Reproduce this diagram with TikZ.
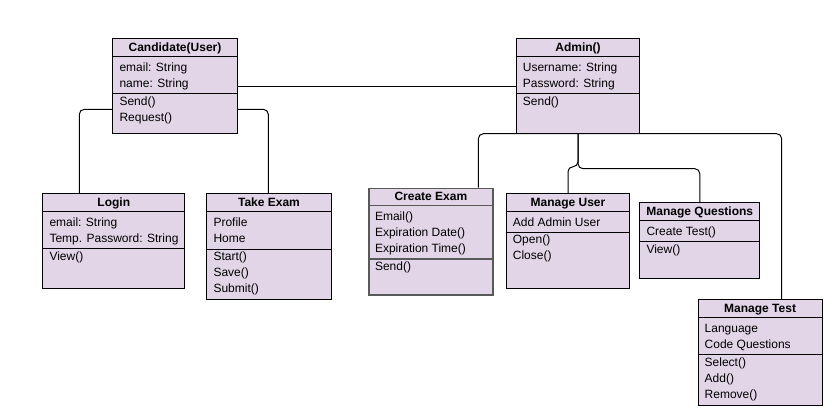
\documentclass[tikz,border=0pt]{standalone}
\usepackage{fontspec}
\setmainfont{Liberation Sans}
\usetikzlibrary{positioning}
\definecolor{umlfill}{HTML}{E1D5E7}
\tikzstyle{classbox} = [rectangle, draw=black, fill=umlfill, line width=1pt, anchor=north west, inner sep=0pt]
\tikzstyle{classname} = [anchor=base, inner sep=0pt, font=\fontsize{12}{16}\selectfont\bfseries]
\tikzstyle{classtext} = [anchor=north west, inner sep=0pt, align=left, font=\fontsize{12}{16}\selectfont]
\tikzstyle{classline} = [line width=1pt]
\tikzstyle{link} = [line width=1pt, rounded corners=5pt]
\tikzstyle{grayedge} = [draw=black!65, line width=1.7pt]
% name, top left, width, height, title, attributes, divider, operations, extra style
\newcommand{\umlclass}[9]{%
  \node (#1) [classbox, minimum width=#3, minimum height=#4, #9] at (#2) {};
  \node (#1-name) [classname] at ([yshift=-13pt]#1.north) {#5};
  \draw [classline, #9] ([yshift=-18pt]#1.north west) -- ([yshift=-18pt]#1.north east);
  \node (#1-attr) [classtext] at ([xshift=7pt,yshift=-21.5pt]#1.north west) {\strut #6};
  \draw [classline, #9] ([yshift=-#7]#1.north west) -- ([yshift=-#7]#1.north east);
  \node (#1-ops) [classtext] at ([xshift=7pt,yshift=-#7-0.5pt]#1.north west) {\strut #8};
}
\begin{document}
\begin{tikzpicture}[x=1pt, y=-1pt]
    \useasboundingbox (0,0) rectangle (832,418);

    \umlclass{cand}{112.3,38.3}{124.4pt}{95pt}{Candidate(User)}{email: String\\name: String}{55pt}{Send()\\Request()}{}
    \umlclass{login}{42.3,193.3}{142pt}{95pt}{Login}{email: String\\Temp. Password: String}{55pt}{View()}{}
    \umlclass{exam}{206.3,193.3}{124.4pt}{106pt}{Take Exam}{Profile\\Home}{55.7pt}{Start()\\Save()\\Submit()}{}
    \umlclass{admin}{515.7,38.3}{123.6pt}{94.4pt}{Admin()}{Username: String\\Password: String}{55pt}{Send()}{}
    \umlclass{create}{367.8,187.5}{124.5pt}{106.8pt}{Create Exam}{Email()\\Expiration Date()\\Expiration Time()}{71.5pt}{Send()}{grayedge}
    \umlclass{manuser}{505.7,193.3}{123.6pt}{95pt}{Manage User}{Add Admin User}{38.7pt}{Open()\\Close()}{}
    \umlclass{manq}{639.3,202.3}{120pt}{76pt}{Manage Questions}{Create Test()}{39pt}{View()}{}
    \umlclass{mantest}{697.5,299.3}{124.2pt}{105.7pt}{Manage Test}{Language\\Code Questions}{55pt}{Select()\\Add()\\Remove()}{}

    % candidate side
    \draw [link] ([yshift=-71pt]cand.north west) -| ([xshift=37pt]login.north west);
    \draw [link] ([yshift=-71pt]cand.north east) -| ([xshift=62pt]exam.north west);
    \draw [link] ([yshift=-48.4pt]cand.north east) -- ([yshift=-48.4pt]admin.north west);

    % admin side
    \draw [link] (admin.south) -| ([xshift=110.5pt]create.north west);
    \draw [link] (admin.south) -| ([xshift=84.2pt]mantest.north west);
    \draw [link] (admin.south) -- ([yshift=-33pt]admin.south) -| (manuser.north);
    \draw [link] (admin.south) -- ([yshift=-35pt]admin.south) -| (manq.north);
  \end{tikzpicture}
\end{document}
